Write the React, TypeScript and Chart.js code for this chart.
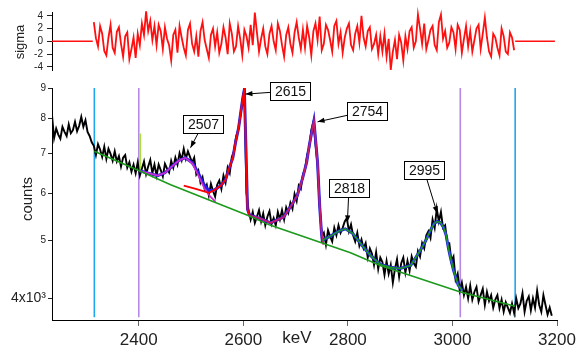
import React, { useEffect, useRef } from "react";
import { Chart, registerables } from "chart.js";

Chart.register(...registerables);

const FONT = "'Liberation Sans', Arial, Helvetica, sans-serif";

const X_MIN = 2234;
const X_MAX = 3200;
const xTickValues = [2400, 2600, 2800, 3000, 3200];

const COUNT_MIN = 3680;
const COUNT_MAX = 9000;
const countTickValues = [4000, 5000, 6000, 7000, 8000, 9000];
const countTickLabels = ["4x10\u00b3", "5", "6", "7", "8", "9"];

const SIGMA_MIN = -4.5;
const SIGMA_MAX = 4.6;
const sigmaTickValues = [-4, -2, 0, 2, 4];

// measured spectrum, 4 keV channels starting at 2234 keV
const SPEC_START = 2234;
const SPEC_STEP = 4;
const spectrumCounts = [
  8100, 7420, 7700, 7520, 7400, 7750, 7600, 7480, 7820, 7560,
  7650, 7900, 7620, 7780, 8050, 7750, 7950, 7600, 7480, 7300,
  7200, 6950, 7250, 7100, 6900, 7180, 6850, 7120, 6980, 6800,
  7050, 6780, 6920, 6650, 6880, 6950, 6620, 6760, 6520, 6700,
  6480, 6760, 6420, 6600, 6780, 6460, 6650, 6820, 6480, 6700,
  6420, 6700, 6560, 6400, 6720, 6600, 6500, 6800, 6620, 6880,
  6700, 7000, 6820, 7120, 6850, 7050, 6900, 6750, 6880, 6450,
  6550, 6250, 6380, 6100, 6200, 5950, 6220, 6050, 5920, 6200,
  6300, 6100, 6420, 6250, 6620, 6480, 6900, 7050, 7450, 7650,
  8050, 8550, 8980, 6000, 5620, 5420, 5580, 5350, 5480, 5620,
  5380, 5550, 5300, 5480, 5600, 5330, 5450, 5300, 5580, 5420,
  5620, 5420, 5680, 5560, 5780, 5650, 5980, 5820, 6180, 6100,
  6450, 6580, 6950, 7150, 7650, 7900, 7250, 6700, 5700, 5080,
  5150, 4920, 5200, 5080, 4980, 5250, 5100, 5300, 5150, 5250,
  5380, 5450, 5180, 5320, 5100, 4980, 5150, 4900, 5020, 4850,
  4950, 4680, 4850, 4750, 4550, 4780, 4480, 4680, 4600, 4380,
  4620, 4400, 4550, 4250, 4480, 4650, 4350, 4580, 4680, 4420,
  4620, 4450, 4700, 4580, 4520, 4800, 4700, 4950, 4850, 5100,
  5180, 5050, 5420, 5250, 5650, 5380, 5580, 5250, 5300, 4950,
  4950, 4620, 4700, 4300, 4400, 4120, 4250, 4050, 4180, 4000,
  4200, 3980, 4100, 4180, 3950, 4050, 4150, 3900, 4100, 3960,
  4050, 3860, 3980, 4050, 3850, 3980, 3800, 3940, 3860, 3780,
  3920, 3780, 4000, 3850, 3920, 4080, 3800, 3960, 4030, 3820,
  4000, 3860, 4120, 3900, 3800, 4050, 3900, 3760, 3860, 3740,
];

// fit residuals (sigma), 4 keV channels starting at 2314 keV
const RES_START = 2314;
const RES_STEP = 4;
const residualSigma = [
  3.0, 0.5, -0.8, 2.4, 1.2, -1.5, -2.2, 0.6, 2.6, -1.0,
  -1.8, 1.5, 2.2, -0.4, -2.4, 0.8, 1.4, -2.8, -1.2, 0.6,
  -2.6, 1.2, -0.6, 2.8, 1.0, 4.7, 1.6, 3.2, 0.2, 2.4,
  -0.6, 2.6, 1.6, -1.2, 2.2, 0.4, -0.6, -3.0, 1.0, 1.8,
  -1.8, 2.4, 0.6, -1.0, -2.2, 1.8, 2.8, -0.4, -1.6, 0.8,
  -2.4, 1.6, 3.0, 0.2, -1.2, -2.6, 1.0, 2.0, -0.8, 1.4,
  -1.8, -0.4, 2.2, 0.6, -2.0, 2.8, 1.2, -1.6, -0.8, 2.4,
  0.4, -2.2, 1.8, 0.8, -1.0, 2.6, -0.6, 4.5, 1.4, -1.6,
  0.4, 2.0, -0.8, -2.0, 1.2, 2.4, 0.0, -1.4, 2.8, 1.6,
  -0.6, -2.4, 1.0, 2.2, -0.4, -1.8, 1.4, 3.0, 0.6, -1.2,
  1.8, -1.0, 2.4, 0.6, -2.2, 1.6, 2.8, 0.2, 3.9, -1.4,
  -0.4, 2.6, 1.8, 0.2, -1.6, 2.4, 3.2, -0.4, 1.4, -1.8,
  0.6, 2.0, 2.8, -0.6, -1.4, 1.2, 2.4, -0.2, 4.0, 0.6,
  -0.8, 1.6, 2.2, -1.2, -0.4, 1.0, -2.0, 0.8, -1.6, 1.2,
  -2.4, 0.4, -4.5, -1.6, 0.2, -2.8, 1.0, -0.2, -3.0, 0.8,
  -1.2, 1.6, 2.2, -1.0, 0.0, 4.2, 2.0, -0.4, 2.8, -1.2,
  0.2, 1.8, 2.4, -0.6, -1.4, 3.0, 4.2, 0.4, 1.6, -1.0,
  -0.2, 2.2, 1.4, -1.2, 2.6, 1.8, -1.8, 0.4, 2.4, -0.8,
  1.6, -1.6, 0.2, 2.0, 2.6, -1.2, 1.2, 3.7, 0.6, -1.6,
  -2.4, 1.2, 0.6, -1.0, -2.2, 2.0, 0.8, -1.6, -2.0, 1.4,
  0.6, -1.4,
];
const residualFlatLeftKeV = [2234, 2312];
const residualFlatRightKeV = [3120, 3196];
const residualFlatSigma = [0, 0];

// background (baseline)
const baselineKeV = [2315, 2401, 2461, 2608, 2652, 2805, 2862, 3015, 3120];
const baselineCounts = [7050, 6540, 6200, 5510, 5300, 4770, 4540, 4100, 3880];

// 2507 component
const peak2507KeV = [2401, 2422, 2436, 2450, 2461, 2476, 2489, 2503, 2514, 2526, 2537, 2547];
const peak2507Counts = [6540, 6470, 6420, 6490, 6620, 6800, 6880, 6720, 6420, 6100, 5920, 5800];

// 2615 component
const peak2615KeV = [2486, 2509, 2534, 2543, 2557, 2566, 2572, 2580, 2585, 2591, 2595, 2599, 2602, 2608, 2612];
const peak2615Counts = [6180, 6100, 6010, 6060, 6180, 6320, 6570, 6880, 7290, 7720, 8180, 8660, 8950, 5640, 5510];

// 2754 component
const peak2754KeV = [2612, 2633, 2652, 2677, 2690, 2703, 2713, 2721, 2726, 2732, 2735, 2742, 2746, 2749, 2753];
const peak2754Counts = [5510, 5440, 5350, 5470, 5690, 5940, 6340, 6750, 7200, 7690, 7930, 6750, 5720, 5220, 4920];

// 2818 + 2995 fit
const highFitKeV = [2751, 2758, 2766, 2774, 2782, 2795, 2809, 2820, 2830, 2843, 2862, 2881, 2900, 2920, 2939, 2948, 2958, 2965, 2971, 2977, 2983, 2988, 2992, 2996, 3002, 3011, 3019];
const highFitCounts = [5000, 5040, 5080, 5130, 5180, 5230, 5140, 5000, 4870, 4720, 4560, 4510, 4490, 4540, 4820, 4980, 5200, 5340, 5380, 5360, 5260, 5100, 4870, 4690, 4460, 4210, 4120];

// total fit, low-energy part (continues with the high fit)
const totalLowKeV = [2401, 2422, 2436, 2450, 2461, 2476, 2489, 2503, 2514, 2524, 2534, 2543, 2557, 2566, 2572, 2580, 2585, 2591, 2595, 2599, 2602, 2608, 2612, 2633, 2652, 2677, 2690, 2703, 2713, 2721, 2726, 2732, 2735, 2742, 2746, 2749];
const totalLowCounts = [6540, 6470, 6420, 6490, 6620, 6800, 6880, 6740, 6480, 6220, 6060, 6060, 6180, 6320, 6570, 6880, 7290, 7720, 8180, 8660, 8950, 5640, 5510, 5440, 5350, 5470, 5690, 5940, 6340, 6750, 7200, 7690, 7930, 6750, 5720, 5220];

// region markers
const markerKeV = [2315, 2400, 3015, 3120];
const markerColors = ["#1fa6ef", "#b58ae6", "#b58ae6", "#1fa6ef"];
const MARKER_TOP = 9000;
const MARKER_BOTTOM = 3720;
const cursorKeV = 2403;
const cursorCounts = [7550, 6550];

// peak labels
const peakLabels = ["2507", "2615", "2754", "2818", "2995"];
const peakTipKeV = [2499, 2604, 2742, 2799, 2971];
const peakTipCounts = [7150, 8790, 7900, 5360, 5550];
const peakBoxKeV = [2522, 2690, 2836, 2803, 2946];
const peakBoxCounts = [7840, 8910, 8240, 6130, 6560];

const pairs = (xs: number[], ys: number[]) => xs.map((x, i) => ({ x, y: ys[i] }));
const line = (data: any[], color: string, width: number, extra: any = {}) => ({
  data,
  borderColor: color,
  backgroundColor: color,
  borderWidth: width,
  pointRadius: 0,
  fill: false,
  tension: 0,
  ...extra,
});

const peakLabelPlugin = {
  id: "peakLabelPlugin",
  afterDatasetsDraw(chart: any) {
    const { ctx } = chart;
    const x = chart.scales.x;
    const y = chart.scales.y;
    ctx.save();
    peakLabels.forEach((label, i) => {
      const cx = Math.round(x.getPixelForValue(peakBoxKeV[i]));
      const cy = Math.round(y.getPixelForValue(peakBoxCounts[i]));
      const tx = x.getPixelForValue(peakTipKeV[i]);
      const ty = y.getPixelForValue(peakTipCounts[i]);
      const w = 40;
      const h = 18;
      const dx = tx - cx;
      const dy = ty - cy;
      const t = Math.min(
        dx !== 0 ? w / 2 / Math.abs(dx) : Infinity,
        dy !== 0 ? h / 2 / Math.abs(dy) : Infinity
      );
      const sx = cx + dx * t;
      const sy = cy + dy * t;
      ctx.strokeStyle = "#000";
      ctx.lineWidth = 1;
      ctx.beginPath();
      ctx.moveTo(sx, sy);
      ctx.lineTo(tx, ty);
      ctx.stroke();
      const ang = Math.atan2(ty - sy, tx - sx);
      const L = 7;
      const W = 2.6;
      ctx.beginPath();
      ctx.moveTo(tx, ty);
      ctx.lineTo(tx - L * Math.cos(ang) + W * Math.sin(ang), ty - L * Math.sin(ang) - W * Math.cos(ang));
      ctx.lineTo(tx - L * Math.cos(ang) - W * Math.sin(ang), ty - L * Math.sin(ang) + W * Math.cos(ang));
      ctx.closePath();
      ctx.fillStyle = "#000";
      ctx.fill();
      ctx.fillStyle = "#fff";
      ctx.fillRect(cx - w / 2, cy - h / 2, w, h);
      ctx.strokeRect(cx - w / 2 + 0.5, cy - h / 2 + 0.5, w, h);
      ctx.fillStyle = "#111";
      ctx.font = `14px ${FONT}`;
      ctx.textAlign = "center";
      ctx.textBaseline = "middle";
      ctx.fillText(label, cx + 0.5, cy + 1.5);
    });
    ctx.restore();
  },
};

const bottomTitles = {
  id: "bottomTitles",
  afterDraw(chart: any) {
    const { ctx } = chart;
    ctx.save();
    ctx.fillStyle = "#222";
    ctx.font = `15px ${FONT}`;
    ctx.textAlign = "center";
    ctx.textBaseline = "alphabetic";
    ctx.translate(32, 119);
    ctx.rotate(-Math.PI / 2);
    ctx.fillText("counts", 0, 0);
    ctx.restore();
    ctx.save();
    ctx.fillStyle = "#222";
    ctx.font = `17px ${FONT}`;
    ctx.textAlign = "center";
    ctx.textBaseline = "alphabetic";
    ctx.fillText("keV", 297, 263);
    ctx.restore();
  },
};

const topTitles = {
  id: "topTitles",
  afterDraw(chart: any) {
    const { ctx } = chart;
    ctx.save();
    ctx.fillStyle = "#222";
    ctx.font = `13px ${FONT}`;
    ctx.textAlign = "center";
    ctx.textBaseline = "alphabetic";
    ctx.translate(24, 42);
    ctx.rotate(-Math.PI / 2);
    ctx.fillText("sigma", 0, 0);
    ctx.restore();
  },
};

export default function App() {
  const topRef = useRef<HTMLCanvasElement>(null);
  const botRef = useRef<HTMLCanvasElement>(null);

  useEffect(() => {
    const spectrum = spectrumCounts.map((c, i) => ({ x: SPEC_START + i * SPEC_STEP, y: c }));
    const residual = residualSigma.map((s, i) => ({ x: RES_START + i * RES_STEP, y: s }));

    const top = new Chart(topRef.current as HTMLCanvasElement, {
      type: "line",
      data: {
        datasets: [
          line(residual, "#ff1010", 1.8),
          line(pairs(residualFlatLeftKeV, residualFlatSigma), "#ff1010", 1.6),
          line(pairs(residualFlatRightKeV, residualFlatSigma), "#ff1010", 1.6),
        ] as any,
      },
      options: {
        responsive: false,
        animation: false,
        events: [],
        clip: 6 as any,
        layout: { padding: { top: 12, bottom: 7, left: 0, right: 24 } },
        plugins: { legend: { display: false }, tooltip: { enabled: false } },
        scales: {
          x: { type: "linear", min: X_MIN, max: X_MAX, display: false },
          y: {
            type: "linear",
            min: SIGMA_MIN,
            max: SIGMA_MAX,
            afterBuildTicks: (s: any) => {
              s.ticks = sigmaTickValues.map((v) => ({ value: v }));
            },
            afterFit: (s: any) => {
              s.width = 52;
            },
            ticks: {
              color: "#222",
              padding: 4,
              font: { family: FONT, size: 10 },
              callback: (v: any) => String(v),
            },
            grid: { display: true, drawOnChartArea: false, drawTicks: true, tickLength: 5, color: "#222" },
            border: { display: true, color: "#000", width: 1 },
          },
        },
      } as any,
      plugins: [topTitles],
    });

    const markerSets = markerKeV.map((k, i) =>
      line([{ x: k, y: MARKER_TOP }, { x: k, y: MARKER_BOTTOM }], markerColors[i], 1.6)
    );

    const bot = new Chart(botRef.current as HTMLCanvasElement, {
      type: "line",
      data: {
        datasets: [
          line(pairs(highFitKeV, highFitCounts), "#1c9a1c", 1.5),
          line(pairs(baselineKeV, baselineCounts), "#1c9a1c", 1.6),
          line(pairs(peak2615KeV, peak2615Counts), "#ff0000", 1.8),
          line(pairs(peak2507KeV, peak2507Counts), "#cc2ccc", 1.8),
          line(pairs(peak2754KeV, peak2754Counts), "#c41c6c", 1.8),
          line(pairs([...totalLowKeV, ...highFitKeV], [...totalLowCounts, ...highFitCounts]), "#2020e6", 3),
          line(pairs([cursorKeV, cursorKeV], cursorCounts), "#a6e03c", 1.4),
          line(spectrum, "#000000", 1.9),
          ...markerSets,
        ] as any,
      },
      options: {
        responsive: false,
        animation: false,
        events: [],
        layout: { padding: { top: 7, bottom: 0, left: 0, right: 24 } },
        plugins: { legend: { display: false }, tooltip: { enabled: false } },
        scales: {
          x: {
            type: "linear",
            min: X_MIN,
            max: X_MAX,
            afterBuildTicks: (s: any) => {
              s.ticks = xTickValues.map((v) => ({ value: v }));
            },
            afterFit: (s: any) => {
              s.height = 29;
            },
            ticks: {
              color: "#222",
              padding: 4,
              maxRotation: 0,
              autoSkip: false,
              font: { family: FONT, size: 17 },
              callback: (v: any) => String(v),
            },
            grid: { display: true, drawOnChartArea: false, drawTicks: true, tickLength: 6, color: "#666" },
            border: { display: true, color: "#000", width: 1 },
          },
          y: {
            type: "logarithmic",
            min: COUNT_MIN,
            max: COUNT_MAX,
            afterBuildTicks: (s: any) => {
              s.ticks = countTickValues.map((v) => ({ value: v }));
            },
            afterFit: (s: any) => {
              s.width = 52;
            },
            ticks: {
              color: "#222",
              padding: 2,
              font: (c: any) => ({ family: FONT, size: c.index === 0 ? 14 : 10 }),
              callback: (v: any) => {
                const idx = countTickValues.indexOf(Number(v));
                return idx >= 0 ? countTickLabels[idx] : "";
              },
            },
            grid: { display: true, drawOnChartArea: false, drawTicks: true, tickLength: 4, color: "#222" },
            border: { display: true, color: "#000", width: 1 },
          },
        },
      } as any,
      plugins: [peakLabelPlugin, bottomTitles],
    });

    return () => {
      top.destroy();
      bot.destroy();
    };
  }, []);

  return (
    <div style={{ position: "fixed", left: 0, top: 0, width: 581, height: 349, background: "#fff" }}>
      <canvas
        ref={topRef}
        width={581}
        height={80}
        style={{ position: "absolute", left: 0, top: 0, width: 581, height: 80 }}
      />
      <canvas
        ref={botRef}
        width={581}
        height={269}
        style={{ position: "absolute", left: 0, top: 80, width: 581, height: 269 }}
      />
    </div>
  );
}
